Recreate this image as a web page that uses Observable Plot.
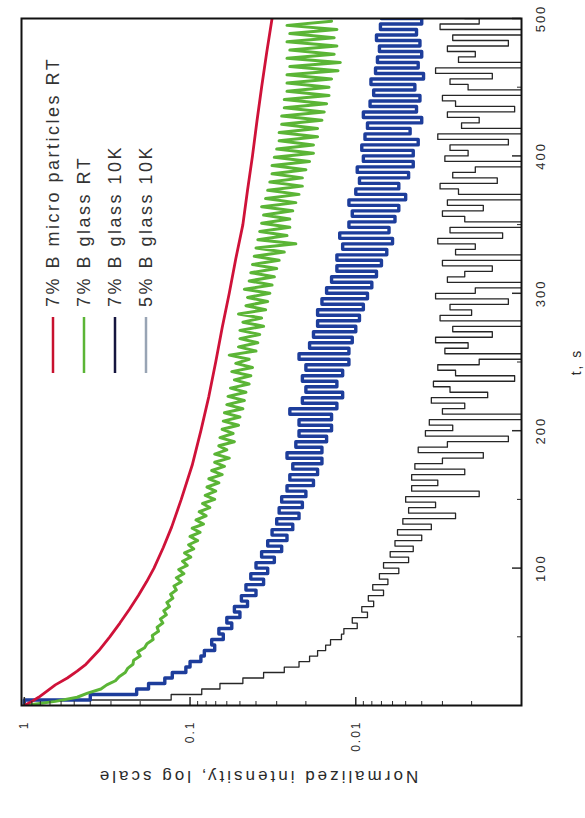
<!DOCTYPE html>
<html><head><meta charset="utf-8">
<script src="https://cdn.jsdelivr.net/npm/d3@7"></script>
<script src="https://cdn.jsdelivr.net/npm/@observablehq/plot@0.6"></script>
<style>
body{margin:0;background:#fff;}
#chart svg{display:block;}
#chart svg text{letter-spacing:2px;}
</style>
</head><body><div id="chart"></div>
<script>
// Series names and colours
const seriesNames = ["7% B micro particles RT", "7% B glass RT", "7% B glass 10K", "5% B glass 10K"];
const seriesColors = ["#cf1239", "#5bb536", "#1d3d9b", "#262626"];
const legendColors = ["#c8102e", "#5bb536", "#15153f", "#98a4b4"];

// Red: smooth decay (time s, normalized intensity)
const redT = [0,3,6,10,15,20,25,30,40,50,60,70,80,90,100,115,130,150,175,200,225,250,275,300,325,350,375,400,425,450,475,500];
const redI = [1,0.9,0.82,0.74,0.65,0.55,0.48,0.425,0.355,0.305,0.265,0.232,0.205,0.183,0.165,0.145,0.129,0.113,0.097,0.086,0.077,0.07,0.064,0.058,0.053,0.048,0.045,0.042,0.0395,0.037,0.0345,0.032];

// Green: sampled every 3 s from t = 0
const greenStep = 3;
const greenI = [
1.0,0.65,0.48,0.415,0.345,0.318,0.282,0.268,0.246,0.238,
0.221,0.219,0.2,0.207,0.188,0.182,0.167,0.169,0.155,0.158,
0.146,0.151,0.139,0.144,0.133,0.138,0.127,0.131,0.121,0.125,
0.113,0.121,0.109,0.117,0.104,0.111,0.099,0.108,0.095,0.102,
0.09,0.1,0.087,0.097,0.083,0.092,0.08,0.088,0.076,0.084,
0.071,0.081,0.07,0.079,0.067,0.077,0.064,0.074,0.062,0.071,
0.058,0.071,0.06,0.067,0.054,0.066,0.055,0.064,0.051,0.063,
0.05,0.062,0.048,0.06,0.047,0.059,0.046,0.057,0.044,0.054,
0.043,0.056,0.042,0.053,0.044,0.058,0.04,0.051,0.039,0.05,
0.038,0.05,0.036,0.048,0.037,0.051,0.035,0.046,0.034,0.045,
0.033,0.047,0.032,0.044,0.031,0.043,0.03,0.042,0.029,0.041,
0.027,0.04,0.023,0.039,0.026,0.038,0.025,0.037,0.025,0.036,
0.024,0.037,0.023,0.035,0.022,0.034,0.021,0.033,0.021,0.032,
0.02,0.032,0.019,0.031,0.018,0.03,0.018,0.029,0.017,0.029,
0.017,0.028,0.016,0.028,0.0155,0.027,0.015,0.027,0.0145,0.026,
0.0145,0.026,0.014,0.026,0.0128,0.025,0.0124,0.026,0.0135,0.025,
0.013,0.026,0.0135,0.025,0.013,0.026,0.014
];

// Blue: sampled every 4 s from t = 0
const blueStep = 4;
const blueI = [
1.0,0.4,0.21,0.178,0.142,0.128,0.106,0.1,0.086,0.082,
0.071,0.074,0.063,0.067,0.056,0.06,0.05,0.054,0.045,0.049,
0.04,0.046,0.036,0.043,0.034,0.04,0.031,0.037,0.028,0.034,
0.026,0.032,0.024,0.03,0.022,0.029,0.021,0.028,0.02,0.026,
0.018,0.025,0.017,0.024,0.016,0.026,0.016,0.023,0.015,0.022,
0.014,0.022,0.014,0.025,0.013,0.021,0.012,0.02,0.013,0.021,
0.012,0.02,0.011,0.022,0.011,0.019,0.0105,0.018,0.01,0.017,
0.0095,0.017,0.009,0.016,0.0085,0.015,0.008,0.014,0.0075,0.013,
0.007,0.013,0.0065,0.012,0.006,0.0125,0.0063,0.011,0.0058,0.0105,
0.0055,0.011,0.005,0.01,0.0055,0.0095,0.0048,0.0098,0.0045,0.009,
0.0045,0.0092,0.0042,0.0088,0.0047,0.0085,0.004,0.009,0.0043,0.0082,
0.0041,0.0078,0.0044,0.0081,0.0039,0.0076,0.0042,0.0074,0.004,0.0072,
0.0041,0.0075,0.0043,0.0071,0.004,0.007
];

// Black: sampled every 4 s from t = 0 (values below 0.001 fall off the axis)
const blackStep = 4;
const blackI = [
1.0,0.13,0.085,0.066,0.048,0.036,0.027,0.022,0.019,0.017,
0.0152,0.0142,0.0122,0.0118,0.0098,0.0105,0.0085,0.0092,0.0078,0.0084,
0.0068,0.0079,0.0064,0.0072,0.0055,0.0068,0.0048,0.0062,0.0045,0.0058,
0.004,0.0056,0.0035,0.0052,0.0025,0.0048,0.0033,0.005,0.0018,0.0046,
0.0032,0.0046,0.0022,0.0044,0.003,0.0017,0.0042,0.0028,0.0012,0.0038,
0.0026,0.0036,0.0008,0.003,0.0022,0.0035,0.0016,0.0027,0.0034,0.0011,
0.0025,0.0032,0.0018,0.0008,0.0029,0.0021,0.0033,0.0015,0.0026,0.0008,
0.0031,0.002,0.0027,0.0012,0.0033,0.0019,0.0008,0.0028,0.0022,0.0015,
0.003,0.0008,0.0025,0.0019,0.0032,0.0013,0.0027,0.0008,0.0022,0.003,
0.0017,0.0028,0.0008,0.0024,0.0031,0.0014,0.0026,0.0019,0.0008,0.0029,
0.0021,0.0027,0.0012,0.0032,0.0008,0.0023,0.0018,0.0028,0.0011,0.0025,
0.003,0.0008,0.0021,0.0027,0.0015,0.0033,0.0008,0.0024,0.0019,0.0028,
0.0012,0.0026,0.0008,0.0031,0.0018,0.0022
];

// Axis ticks and labels
const intensityTicks = [1, 0.1, 0.01];
const intensityTickLabels = ["1", "0.1", "0.01"];
const intensityMinor = [0.9,0.8,0.7,0.6,0.5,0.4,0.3,0.2,0.09,0.08,0.07,0.06,0.05,0.04,0.03,0.02,0.009,0.008,0.007,0.006,0.005,0.004,0.003,0.002];
const timeTicks = [100, 200, 300, 400, 500];
const timeMinor = [50, 150, 250, 350, 450];
const intensityLabel = "Normalized intensity, log scale";
const timeLabel = "t, s";

// Build tables
const redRows = redT.map((t, i) => ({t, v: redI[i]}));
const sampled = (step, vals) => vals.map((v, i) => ({t: i * step, v}));
const greenRows = sampled(greenStep, greenI);
const blueRows = sampled(blueStep, blueI);
const blackRows = sampled(blackStep, blackI);

const W = 585, H = 818;
const mL = 21, mR = 64, mT = 18, mB = 113;
const frameW = W - mL - mR, frameH = H - mT - mB;
const ink = "#2a2a2a";

const chart = Plot.plot({
  width: W, height: H,
  marginLeft: mL, marginRight: mR, marginTop: mT, marginBottom: mB,
  style: {fontFamily: "'Liberation Sans', Arial, sans-serif", background: "#fff", color: ink},
  x: {type: "log", domain: [1.04, 0.001], axis: null},
  y: {domain: [0, 500], axis: null},
  marks: [
    Plot.line(blackRows, {x: "v", y: "t", stroke: seriesColors[3], strokeWidth: 1.3, curve: "step-before", clip: true}),
    Plot.line(blueRows, {x: "v", y: "t", stroke: seriesColors[2], strokeWidth: 3.4, curve: "step-before", clip: true}),
    Plot.line(greenRows, {x: "v", y: "t", stroke: seriesColors[1], strokeWidth: 3, clip: true}),
    Plot.line(redRows, {x: "v", y: "t", stroke: seriesColors[0], strokeWidth: 2.8, clip: true}),
    Plot.tickX(intensityMinor, {x: d => d, insetTop: frameH - 4, stroke: ink}),
    Plot.tickX(intensityTicks, {x: d => d, insetTop: frameH - 8, stroke: ink, strokeWidth: 1.5}),
    Plot.tickY(timeMinor, {y: d => d, insetLeft: frameW - 4, stroke: ink}),
    Plot.tickY(timeTicks, {y: d => d, insetLeft: frameW - 9, stroke: ink, strokeWidth: 1.5}),
    Plot.frame({stroke: "#111", strokeWidth: 2}),
    Plot.text(intensityTicks, {x: d => d, text: (d, i) => intensityTickLabels[i], frameAnchor: "bottom", dy: 15, rotate: -90, textAnchor: "end", lineAnchor: "middle", fontSize: 12, fill: ink}),
    Plot.text(timeTicks, {y: d => d, text: d => String(d), frameAnchor: "right", dx: 19, rotate: -90, textAnchor: "middle", lineAnchor: "middle", fontSize: 13, fill: ink}),
    Plot.text([intensityLabel], {text: d => d, frameAnchor: "bottom", dx: -14, dy: 71, rotate: 180, textAnchor: "middle", lineAnchor: "middle", fontSize: 17, fill: ink}),
    Plot.text([timeLabel], {text: d => d, frameAnchor: "right", dx: 55, rotate: -90, textAnchor: "middle", lineAnchor: "middle", fontSize: 14, fill: ink})
  ]
});

// Wider letter spacing for the axis title, as in the reference
d3.select(chart).selectAll("text").filter(function() { return this.textContent === intensityLabel; })
  .style("letter-spacing", "3px");

// Legend inside the frame (upper-left of the rotated chart)
const lg = d3.select(chart).append("g").attr("class", "legend");
seriesNames.forEach((name, i) => {
  const x = 53 + 31 * i;
  lg.append("line").attr("x1", x).attr("x2", x).attr("y1", 317).attr("y2", 373)
    .attr("stroke", legendColors[i]).attr("stroke-width", 2.5);
  lg.append("text").attr("transform", `translate(${x},307) rotate(-90)`)
    .attr("text-anchor", "start").attr("dy", "0.35em").attr("font-size", 18)
    .style("letter-spacing", "2.5px").attr("fill", "#333").text(name);
});

document.getElementById("chart").appendChild(chart);
</script>
</body></html>
